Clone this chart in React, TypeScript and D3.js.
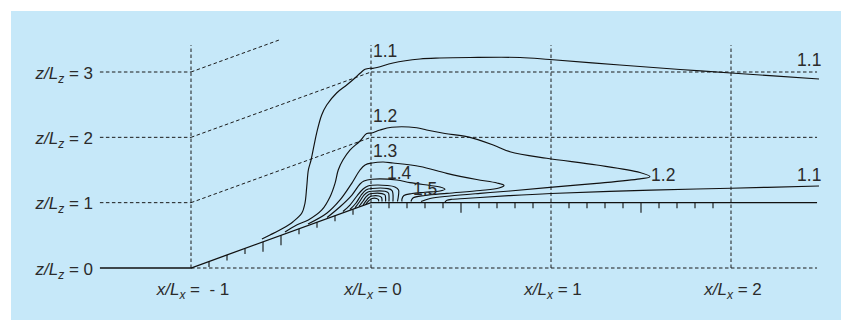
import React from "react";
import * as d3 from "d3";

const W = 841;
const H = 320;

// Streamwise stations and height levels (in hill lengths / heights)
const xStations = [-1, 0, 1, 2];
const xStationText = ["  - 1", " 0", " 1", " 2"];
const zLevels = [0, 1, 2, 3];
const zLevelText = ["0", "1", "2", "3"];

// Measurement stations along the surface
const slopeStations = [-0.9, -0.8, -0.7, -0.6, -0.5, -0.4, -0.3, -0.2, -0.1];
const plateauStations = [0.1, 0.2, 0.3, 0.4, 0.5, 0.6, 0.7, 0.8, 0.9, 1.1, 1.2, 1.3, 1.4, 1.5, 1.6, 1.7, 1.8, 1.9];
const majorStations = [-0.6, -0.5, 0.5, 1.5];

// Speed-up ratio contours, [x/Lx, z/Lz] pairs
const c11Upper: [number, number][] = [
  [-0.606, 0.444], [-0.561, 0.505], [-0.489, 0.608], [-0.433, 0.709], [-0.385, 0.837],
  [-0.367, 0.99], [-0.357, 1.244], [-0.348, 1.5], [-0.333, 1.653], [-0.302, 2.066],
  [-0.274, 2.342], [-0.246, 2.495], [-0.191, 2.679], [-0.135, 2.801], [-0.089, 2.908],
  [-0.061, 2.98], [-0.033, 3.041], [-0.006, 3.057], [0.01, 3.055], [0.039, 3.072],
  [0.122, 3.138], [0.272, 3.199], [0.383, 3.214], [0.55, 3.222], [0.828, 3.222],
  [0.994, 3.191], [1.383, 3.107], [1.717, 3.038], [2.0, 2.985], [2.489, 2.893],
];
const c11Lower: [number, number][] = [
  [0.411, 1.01], [0.422, 1.036], [0.45, 1.052], [0.522, 1.064], [0.606, 1.079],
  [0.772, 1.108], [1.0, 1.14], [1.556, 1.191], [2.0, 1.221], [2.489, 1.255],
];
const c12: [number, number][] = [
  [-0.478, 0.551], [-0.413, 0.658], [-0.348, 0.735], [-0.273, 0.888], [-0.228, 1.087],
  [-0.2, 1.296], [-0.182, 1.5], [-0.156, 1.653], [-0.117, 1.806], [-0.061, 1.944],
  [-0.024, 2.059], [0.004, 2.066], [0.05, 2.112], [0.115, 2.154], [0.254, 2.147],
  [0.309, 2.112], [0.411, 2.059], [0.532, 2.01], [0.679, 1.883], [0.772, 1.78],
  [0.976, 1.679], [1.254, 1.577], [1.494, 1.462], [1.55, 1.397], [1.494, 1.365],
  [1.254, 1.296], [0.994, 1.235], [0.772, 1.179], [0.606, 1.143], [0.439, 1.102],
  [0.328, 1.064], [0.278, 1.018],
];
const c13: [number, number][] = [
  [-0.35, 0.673], [-0.246, 0.837], [-0.172, 1.041], [-0.107, 1.296], [-0.061, 1.5],
  [-0.033, 1.577], [0.006, 1.607], [0.067, 1.622], [0.122, 1.607], [0.272, 1.554],
  [0.421, 1.449], [0.587, 1.355], [0.7, 1.301], [0.739, 1.263], [0.711, 1.224],
  [0.606, 1.186], [0.422, 1.143], [0.3, 1.11], [0.233, 1.071], [0.222, 1.018],
];
const c14: [number, number][] = [
  [-0.244, 0.773], [-0.172, 0.938], [-0.106, 1.117], [-0.061, 1.286], [-0.039, 1.332],
  [0.004, 1.358], [0.143, 1.347], [0.217, 1.306], [0.328, 1.263], [0.383, 1.24],
  [0.411, 1.205], [0.383, 1.179], [0.3, 1.159], [0.228, 1.14], [0.183, 1.11],
  [0.172, 1.056], [0.172, 1.018],
];
const c15: [number, number][] = [
  [-0.156, 0.865], [-0.117, 0.964], [-0.078, 1.102], [-0.044, 1.209], [-0.017, 1.255],
  [0.006, 1.267], [0.089, 1.263], [0.133, 1.24], [0.153, 1.194], [0.153, 1.117],
  [0.147, 1.018],
];
const c16: [number, number][] = [
  [-0.117, 0.895], [-0.083, 0.995], [-0.056, 1.11], [-0.028, 1.194], [0.006, 1.217],
  [0.094, 1.214], [0.117, 1.186], [0.122, 1.133], [0.122, 1.018],
];
const c17: [number, number][] = [
  [-0.089, 0.921], [-0.061, 1.026], [-0.039, 1.117], [-0.017, 1.163], [0.006, 1.175],
  [0.078, 1.174], [0.097, 1.148], [0.1, 1.102], [0.1, 1.018],
];
const c18: [number, number][] = [
  [-0.067, 0.941], [-0.044, 1.026], [-0.028, 1.087], [-0.011, 1.128], [0.006, 1.14],
  [0.061, 1.139], [0.078, 1.117], [0.081, 1.071], [0.081, 1.018],
];
const c19: [number, number][] = [
  [-0.044, 0.964], [-0.028, 1.026], [-0.011, 1.079], [0.006, 1.102], [0.044, 1.102],
  [0.058, 1.082], [0.061, 1.048], [0.061, 1.018],
];
const c20: [number, number][] = [
  [-0.028, 0.98], [-0.011, 1.033], [0.006, 1.064], [0.031, 1.064], [0.042, 1.044],
  [0.042, 1.018],
];
const contours = [c11Upper, c11Lower, c12, c13, c14, c15, c16, c17, c18, c19, c20];

// Contour level labels: text, x/Lx, z/Lz
const labelText = ["1.1", "1.2", "1.3", "1.4", "1.5", "1.2", "1.1", "1.1"];
const labelX = [0.011, 0.011, 0.011, 0.089, 0.233, 1.556, 2.367, 2.367];
const labelZ = [3.329, 2.334, 1.798, 1.462, 1.217, 1.423, 3.191, 1.423];

const xLeft = -1.506;
const xRight = 2.478;
const zTop = 3.41;

const hill = (x: number) => (x < -1 ? 0 : x < 0 ? x + 1 : 1);

export default function App() {
  const x = d3.scaleLinear().domain([-1, 2]).range([191, 731]);
  const y = d3.scaleLinear().domain([0, 3]).range([268, 72]);

  const contourLine = d3
    .line<[number, number]>()
    .x((d) => x(d[0]))
    .y((d) => y(d[1]))
    .curve(d3.curveCatmullRom.alpha(0.5));
  const straight = d3
    .line<[number, number]>()
    .x((d) => x(d[0]))
    .y((d) => y(d[1]));

  const ground: [number, number][] = [[xLeft, 0], [-1, 0], [0, 1], [xRight, 1]];

  const dash = "3.5,2.5";
  const dotted = { stroke: "#1b1b1b", strokeWidth: 1, strokeDasharray: dash, fill: "none" };
  const textColor = "#2b2b2b";
  const font = "'Liberation Sans', Arial, Helvetica, sans-serif";

  // Terrain-following level lines between x/Lx = -1 and 0
  const slanted: [number, number][][] = [
    [[-1, 1], [0, 2]],
    [[-1, 2], [0, 3]],
    [[-1, 3], [-0.5, 3.5]],
  ];

  const allStations = [...slopeStations, ...plateauStations];

  return (
    <svg
      width={W}
      height={H}
      style={{ position: "absolute", left: 0, top: 0, background: "#ffffff" }}
      fontFamily={font}
    >
      <rect x={11} y={11} width={W - 11} height={H - 11} fill="#c6e8f9" />

      {/* horizontal level lines left of the hill */}
      {zLevels.slice(1).map((z) => (
        <path key={"hl" + z} d={straight([[xLeft, z], [-1, z]]) || ""} {...dotted} />
      ))}
      {/* baseline under the hill */}
      <path d={straight([[-1, 0], [xRight, 0]]) || ""} {...dotted} />
      {/* level lines over the plateau */}
      {[2, 3].map((z) => (
        <path key={"hr" + z} d={straight([[0, z], [xRight, z]]) || ""} {...dotted} />
      ))}
      {slanted.map((seg, i) => (
        <path key={"sl" + i} d={straight(seg) || ""} {...dotted} />
      ))}
      {/* station lines */}
      {xStations.map((s) => (
        <path key={"v" + s} d={straight([[s, 0], [s, zTop]]) || ""} {...dotted} />
      ))}

      {/* surface stations */}
      {allStations.map((s) => {
        const major = majorStations.some((m) => Math.abs(m - s) < 1e-6);
        const gy = y(hill(s));
        return (
          <line
            key={"t" + s}
            x1={x(s)}
            x2={x(s)}
            y1={gy}
            y2={gy + (major ? 10 : 5.5)}
            stroke="#111"
            strokeWidth={1.1}
          />
        );
      })}

      {/* ground profile */}
      <path d={straight(ground) || ""} fill="none" stroke="#111" strokeWidth={1.3} />

      {/* contours */}
      {contours.map((c, i) => (
        <path key={"c" + i} d={contourLine(c) || ""} fill="none" stroke="#111" strokeWidth={1.15} />
      ))}

      {/* contour labels */}
      {labelText.map((t, i) => (
        <text
          key={"lab" + i}
          x={x(labelX[i])}
          y={y(labelZ[i])}
          dy="0.36em"
          fontSize={17.5}
          fill={textColor}
        >
          {t}
        </text>
      ))}

      {/* height level labels */}
      {zLevels.map((z, i) => (
        <text
          key={"zl" + z}
          x={93}
          y={y(z) + 6.5}
          textAnchor="end"
          fontSize={17}
          fill={textColor}
          style={{ whiteSpace: "pre" }}
        >
          <tspan fontStyle="italic">z/L</tspan>
          <tspan fontStyle="italic" fontSize={12} dy={4}>z</tspan>
          <tspan dy={-4}>{" = " + zLevelText[i]}</tspan>
        </text>
      ))}

      {/* station labels */}
      {xStations.map((s, i) => (
        <text
          key={"xl" + s}
          x={x(s) + 2}
          y={295}
          textAnchor="middle"
          fontSize={17}
          fill={textColor}
          style={{ whiteSpace: "pre" }}
        >
          <tspan fontStyle="italic">x/L</tspan>
          <tspan fontStyle="italic" fontSize={12} dy={4}>x</tspan>
          <tspan dy={-4}>{" =" + xStationText[i]}</tspan>
        </text>
      ))}
    </svg>
  );
}
